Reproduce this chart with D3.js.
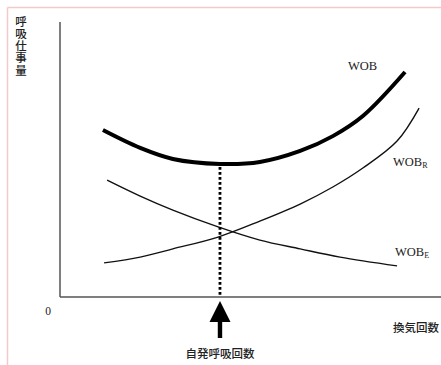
<!DOCTYPE html>
<html><head><meta charset="utf-8">
<script src="https://cdn.jsdelivr.net/npm/d3@7"></script>
<style>html,body{margin:0;padding:0;background:#fff;}svg{display:block;}</style>
</head><body>
<svg id="c" width="441" height="365"></svg>
<script>
// Data (ventilation rate in arbitrary units 0-100, work of breathing 0-100)
const wobX  = [11.3, 21.1, 29.7, 42.1, 52.6, 63.2, 71.8, 79.7, 90.8];
const wobY  = [60.7, 54.2, 50.2, 48.4, 49.1, 53.1, 58.5, 65.8, 81.8];
const wobRX = [11.6, 21.1, 29.7, 41.6, 52.6, 63.2, 71.8, 79.7, 88.7, 94.5];
const wobRY = [12.4, 14.5, 17.5, 21.8, 27.6, 33.8, 40.0, 46.9, 56.7, 68.7];
const wobEX = [12.4, 21.1, 29.7, 41.6, 52.6, 63.2, 73.7, 88.7];
const wobEY = [42.5, 36.7, 31.6, 25.5, 20.7, 17.5, 14.5, 11.3];
const spontX = 42.1;           // spontaneous breathing rate
const spontWOB = 48.4;         // WOB minimum
const yTitle = "呼吸仕事量";
const xTitle = "換気回数";
const markerLabel = "自発呼吸回数";
const originLabel = "0";

const svg = d3.select("#c");
const x = d3.scaleLinear().domain([0, 100]).range([60, 440]);
const y = d3.scaleLinear().domain([0, 100]).range([297, 22]);

// pink frame
svg.append("line").attr("x1", 7.5).attr("x2", 441).attr("y1", 7.5).attr("y2", 7.5)
  .attr("stroke", "#f5c9c9").attr("stroke-width", 1.5);
svg.append("line").attr("x1", 7.5).attr("x2", 7.5).attr("y1", 7.5).attr("y2", 365)
  .attr("stroke", "#f5c9c9").attr("stroke-width", 1.5);

// axes
svg.append("line").attr("x1", x(0)).attr("x2", x(0)).attr("y1", y(100)).attr("y2", y(0))
  .attr("stroke", "#555").attr("stroke-width", 1.5);
svg.append("line").attr("x1", x(0)).attr("x2", 441).attr("y1", y(0)).attr("y2", y(0))
  .attr("stroke", "#555").attr("stroke-width", 1.5);

const line = d3.line().x(d => x(d[0])).y(d => y(d[1])).curve(d3.curveCatmullRom);
const zip = (a, b) => a.map((v, i) => [v, b[i]]);

svg.append("path").datum(zip(wobRX, wobRY)).attr("d", line)
  .attr("fill", "none").attr("stroke", "#111").attr("stroke-width", 1.4);
svg.append("path").datum(zip(wobEX, wobEY)).attr("d", line)
  .attr("fill", "none").attr("stroke", "#111").attr("stroke-width", 1.4);
svg.append("path").datum(zip(wobX, wobY)).attr("d", line)
  .attr("fill", "none").attr("stroke", "#000").attr("stroke-width", 4);

// dotted marker
svg.append("line").attr("x1", x(spontX)).attr("x2", x(spontX))
  .attr("y1", y(spontWOB) + 3).attr("y2", y(0))
  .attr("stroke", "#000").attr("stroke-width", 2.8).attr("stroke-dasharray", "2.8,2.2");

// arrow
const ax = x(spontX);
svg.append("rect").attr("x", ax - 2.2).attr("y", 318).attr("width", 4.4).attr("height", 20).attr("fill", "#000");
svg.append("path").attr("d", `M${ax},301 L${ax + 10.5},322 L${ax - 10.5},322 Z`).attr("fill", "#000");

// labels
const serif = "'Liberation Serif','DejaVu Serif',serif";
const cjk = "'Noto Sans CJK JP','Noto Sans CJK SC',sans-serif";
svg.append("text").attr("x", 348).attr("y", 70).attr("font-family", serif).attr("font-size", 12.5)
  .attr("fill", "#222").text("WOB");
const tR = svg.append("text").attr("x", 393).attr("y", 166).attr("font-family", serif).attr("font-size", 12.5).attr("fill", "#222");
tR.append("tspan").text("WOB");
tR.append("tspan").attr("font-size", 8).attr("dy", 2).text("R");
const tE = svg.append("text").attr("x", 395).attr("y", 256).attr("font-family", serif).attr("font-size", 12.5).attr("fill", "#222");
tE.append("tspan").text("WOB");
tE.append("tspan").attr("font-size", 8).attr("dy", 2).text("E");

svg.append("text").attr("x", 48).attr("y", 315).attr("text-anchor", "middle")
  .attr("font-family", serif).attr("font-size", 11.5).attr("fill", "#222").text(originLabel);

svg.append("text").attr("x", 393).attr("y", 332).attr("font-family", cjk).attr("font-size", 11.5)
  .attr("font-weight", 500).attr("fill", "#222").text(xTitle);
svg.append("text").attr("x", ax).attr("y", 358).attr("text-anchor", "middle").attr("font-family", cjk)
  .attr("font-size", 11.5).attr("font-weight", 500).attr("fill", "#222").text(markerLabel);

svg.append("text").attr("x", 21).attr("y", 16).attr("font-family", cjk).attr("font-size", 11.5)
  .attr("font-weight", 500).attr("fill", "#222").style("writing-mode", "vertical-rl").style("letter-spacing", "0.6px")
  .text(yTitle);
</script>
</body></html>
